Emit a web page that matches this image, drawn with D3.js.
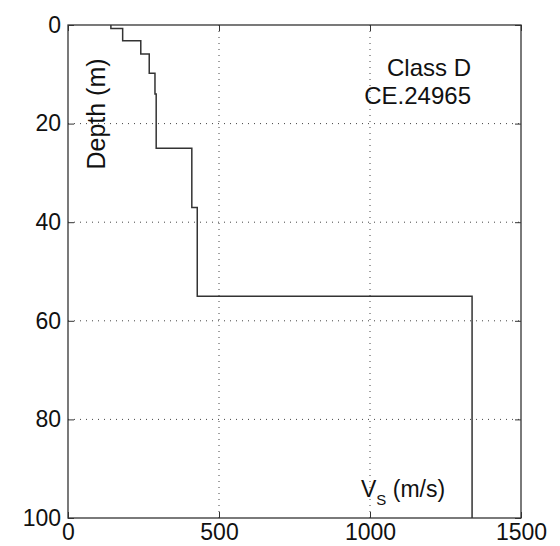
<!DOCTYPE html>
<html>
<head>
<meta charset="utf-8">
<script src="https://cdn.jsdelivr.net/npm/d3@7"></script>
<style>
  html, body { margin: 0; padding: 0; background: #fff; }
  text { font-family: "Liberation Sans", Arial, Helvetica, sans-serif; fill: #111; }
</style>
</head>
<body>
<svg id="chart" width="560" height="546"></svg>
<script>
// Shear-wave velocity profile: layer tops (m) and layer velocities (m/s)
const layerTop = [0, 0.7, 3.2, 5.9, 9.8, 14, 25, 37, 55];
const layerVs = [142, 181, 241, 269, 288, 292, 410, 428, 1338];
const profileBottom = 100;

const xTicks = [0, 500, 1000, 1500];
const yTicks = [0, 20, 40, 60, 80, 100];
const annotation = ["Class D", "CE.24965"];

const W = 560, H = 546;
const m = { left: 68, top: 25, right: 39, bottom: 28 };
const x0 = m.left, x1 = W - m.right, y0 = m.top, y1 = H - m.bottom;

const svg = d3.select("#chart");
const x = d3.scaleLinear().domain([0, 1500]).range([x0, x1]);
const y = d3.scaleLinear().domain([0, 100]).range([y0, y1]);

// dotted grid
const grid = svg.append("g").attr("stroke", "#444").attr("stroke-width", 1)
  .attr("stroke-dasharray", "1,5");
grid.selectAll(".gx").data(xTicks.slice(1, -1)).join("line")
  .attr("x1", d => x(d)).attr("x2", d => x(d)).attr("y1", y0).attr("y2", y1);
grid.selectAll(".gy").data(yTicks.slice(1, -1)).join("line")
  .attr("y1", d => y(d)).attr("y2", d => y(d)).attr("x1", x0).attr("x2", x1);

// axes with inward ticks
const tickLen = 6;
const fmt = d3.format("d");
const axFmt = g => {
  g.select(".domain").remove();
  g.selectAll(".tick line").attr("stroke", "#333");
  g.selectAll(".tick text").attr("font-size", 23).attr("fill", "#111");
};
svg.append("g").attr("transform", `translate(0,${y1})`)
  .call(d3.axisBottom(x).tickValues(xTicks).tickFormat(fmt).tickSizeInner(-tickLen).tickSizeOuter(0).tickPadding(6))
  .call(axFmt);
svg.append("g").attr("transform", `translate(0,${y0})`)
  .call(d3.axisTop(x).tickValues(xTicks).tickSizeInner(-tickLen).tickSizeOuter(0).tickFormat(""))
  .call(axFmt);
svg.append("g").attr("transform", `translate(${x0},0)`)
  .call(d3.axisLeft(y).tickValues(yTicks).tickFormat(fmt).tickSizeInner(-tickLen).tickSizeOuter(0).tickPadding(7))
  .call(axFmt);
svg.append("g").attr("transform", `translate(${x1},0)`)
  .call(d3.axisRight(y).tickValues(yTicks).tickSizeInner(-tickLen).tickSizeOuter(0).tickFormat(""))
  .call(axFmt);

// box frame
svg.append("rect").attr("x", x0).attr("y", y0).attr("width", x1 - x0).attr("height", y1 - y0)
  .attr("fill", "none").attr("stroke", "#333").attr("stroke-width", 1.3);

// stepped Vs profile
const pts = [];
layerVs.forEach((v, i) => {
  const bot = i < layerTop.length - 1 ? layerTop[i + 1] : profileBottom;
  pts.push([v, layerTop[i]], [v, bot]);
});
svg.append("path").datum(pts)
  .attr("d", d3.line().x(d => x(d[0])).y(d => y(d[1])))
  .attr("fill", "none").attr("stroke", "#333").attr("stroke-width", 1.5);

// labels
svg.append("text").attr("transform", `translate(105,114) rotate(-90)`)
  .attr("text-anchor", "middle").attr("font-size", 25).text("Depth (m)");

const vs = svg.append("text").attr("x", 361).attr("y", 497).attr("font-size", 23);
vs.append("tspan").text("V");
vs.append("tspan").attr("font-size", 15).attr("dy", 8).text("S");
vs.append("tspan").attr("dy", -8).text(" (m/s)");

svg.selectAll(".ann").data(annotation).join("text")
  .attr("x", 471).attr("y", (d, i) => 76 + i * 28)
  .attr("text-anchor", "end").attr("font-size", 24).text(d => d);
</script>
</body>
</html>
